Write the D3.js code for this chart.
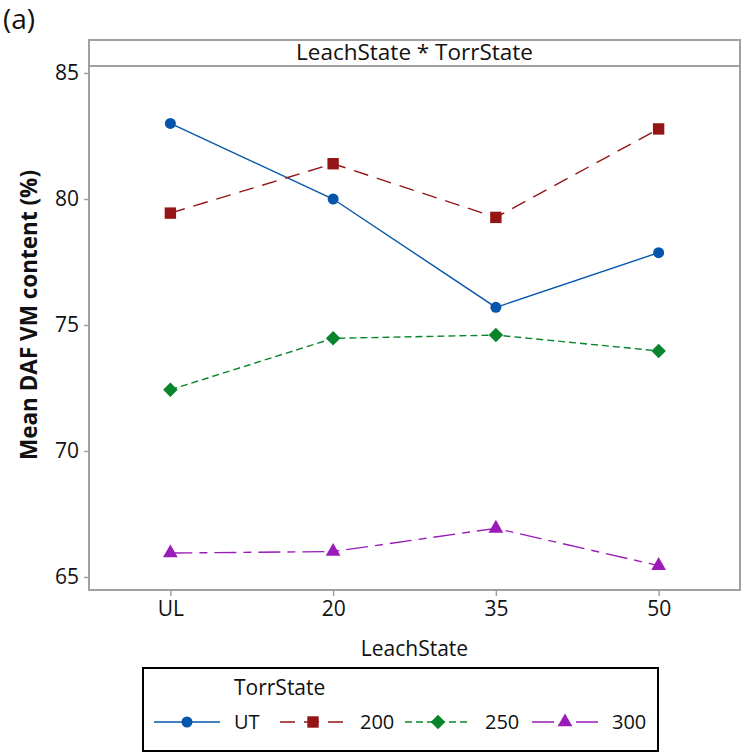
<!DOCTYPE html>
<html>
<head>
<meta charset="utf-8">
<script src="https://cdn.jsdelivr.net/npm/d3@7"></script>
<style>
  body { margin: 0; background: #fff; }
  text { font-family: "Open Sans", "Noto Sans", sans-serif; fill: #111; }
</style>
</head>
<body>
<div id="chart"></div>
<script>
// data
const leachStates = ['UL', '20', '35', '50'];
const torrStates = ['UT', '200', '250', '300'];
const valuesUT = [83.0, 80.0, 75.7, 77.87];
const values200 = [79.44, 81.4, 79.27, 82.78];
const values250 = [72.43, 74.47, 74.6, 73.97];
const values300 = [65.95, 66.01, 66.93, 65.45];
const yTicks = [65, 70, 75, 80, 85];

const series = [
  { name: 'UT', values: valuesUT, color: '#0556ab', dash: null, marker: 'circle' },
  { name: '200', values: values200, color: '#951516', dash: '15 9', marker: 'square' },
  { name: '250', values: values250, color: '#08842a', dash: '7 4', marker: 'diamond' },
  { name: '300', values: values300, color: '#9a1bb8', dash: '22 7 8 7', marker: 'triangle' }
];

const width = 743, height = 756;
const frame = { left: 89, right: 740, top: 40, bottom: 590, header: 66 };

const svg = d3.select('#chart')
  .append('svg')
  .attr('width', width)
  .attr('height', height);

const x = d3.scalePoint()
  .domain(leachStates)
  .range([frame.left, frame.right])
  .padding(0.5);

const y = d3.scaleLinear()
  .domain([65, 85])
  .range([577, 73]);

// panel label
svg.append('text')
  .attr('x', 3)
  .attr('y', 29)
  .style('font-size', '28px')
  .text('(a)');

// header strip
svg.append('text')
  .attr('x', (frame.left + frame.right) / 2)
  .attr('y', 60)
  .attr('text-anchor', 'middle')
  .style('font-size', '22.5px')
  .text('LeachState * TorrState');

svg.append('line')
  .attr('x1', frame.left).attr('x2', frame.right)
  .attr('y1', frame.header).attr('y2', frame.header)
  .attr('stroke', '#a0a0a0')
  .attr('stroke-width', 2);

svg.append('rect')
  .attr('x', frame.left)
  .attr('y', frame.top)
  .attr('width', frame.right - frame.left)
  .attr('height', frame.bottom - frame.top)
  .attr('fill', 'none')
  .attr('stroke', '#a0a0a0')
  .attr('stroke-width', 2);

// y axis
const yAxis = svg.append('g')
  .attr('transform', `translate(${frame.left}, 0)`)
  .call(d3.axisLeft(y).tickValues(yTicks).tickSize(5).tickPadding(5));
yAxis.select('.domain').remove();
yAxis.selectAll('line').attr('stroke', '#a0a0a0').attr('stroke-width', 1.5);
yAxis.selectAll('text')
  .style('font-size', '21px')
  .style('font-family', '"Open Sans", sans-serif')
  .attr('fill', '#111');

// x axis
const xAxis = svg.append('g')
  .attr('transform', `translate(0, ${frame.bottom})`)
  .call(d3.axisBottom(x).tickSize(6).tickPadding(5));
xAxis.select('.domain').remove();
xAxis.selectAll('line').attr('stroke', '#a0a0a0').attr('stroke-width', 1.5);
xAxis.selectAll('text')
  .style('font-size', '21px')
  .style('font-family', '"Open Sans", sans-serif')
  .attr('fill', '#111');

// axis titles
svg.append('text')
  .attr('x', (frame.left + frame.right) / 2)
  .attr('y', 656)
  .attr('text-anchor', 'middle')
  .style('font-size', '21px')
  .text('LeachState');

svg.append('text')
  .attr('transform', 'translate(37, 315) rotate(-90)')
  .attr('text-anchor', 'middle')
  .style('font-size', '22.5px')
  .style('font-weight', 'bold')
  .text('Mean DAF VM content (%)');

// marker shapes
const symbolFor = {
  circle: d3.symbol(d3.symbolCircle, 95),
  square: d3.symbol(d3.symbolSquare, 130),
  diamond: d3.symbol(d3.symbolSquare, 105),
  triangle: d3.symbol(d3.symbolTriangle, 95)
};
const markerTurn = (m) => (m === 'diamond' ? ' rotate(45)' : '');

const line = d3.line()
  .x((d, i) => x(leachStates[i]))
  .y((d) => y(d));

series.forEach((s) => {
  svg.append('path')
    .datum(s.values)
    .attr('d', line)
    .attr('fill', 'none')
    .attr('stroke', s.color)
    .attr('stroke-width', 1.4)
    .attr('stroke-dasharray', s.dash);

  svg.selectAll(null)
    .data(s.values)
    .enter()
    .append('path')
    .attr('d', symbolFor[s.marker])
    .attr('transform', (d, i) => `translate(${x(leachStates[i])}, ${y(d)})${markerTurn(s.marker)}`)
    .attr('fill', s.color);
});

// legend
const legend = svg.append('g');
legend.append('rect')
  .attr('x', 143)
  .attr('y', 668)
  .attr('width', 515)
  .attr('height', 83)
  .attr('fill', '#fff')
  .attr('stroke', '#000')
  .attr('stroke-width', 2);

legend.append('text')
  .attr('x', 234)
  .attr('y', 695)
  .style('font-size', '21px')
  .text('TorrState');

const legendX = [154, 280, 405, 532];
series.forEach((s, i) => {
  const x0 = legendX[i];
  const ly = 722;
  legend.append('line')
    .attr('x1', x0).attr('x2', x0 + 66)
    .attr('y1', ly).attr('y2', ly)
    .attr('stroke', s.color)
    .attr('stroke-width', 1.4)
    .attr('stroke-dasharray', s.dash);
  legend.append('path')
    .attr('d', symbolFor[s.marker])
    .attr('transform', `translate(${x0 + 33}, ${ly})${markerTurn(s.marker)}`)
    .attr('fill', s.color);
  legend.append('text')
    .attr('x', x0 + 80)
    .attr('y', ly + 7)
    .style('font-size', '20px')
    .text(s.name);
});
</script>
</body>
</html>
